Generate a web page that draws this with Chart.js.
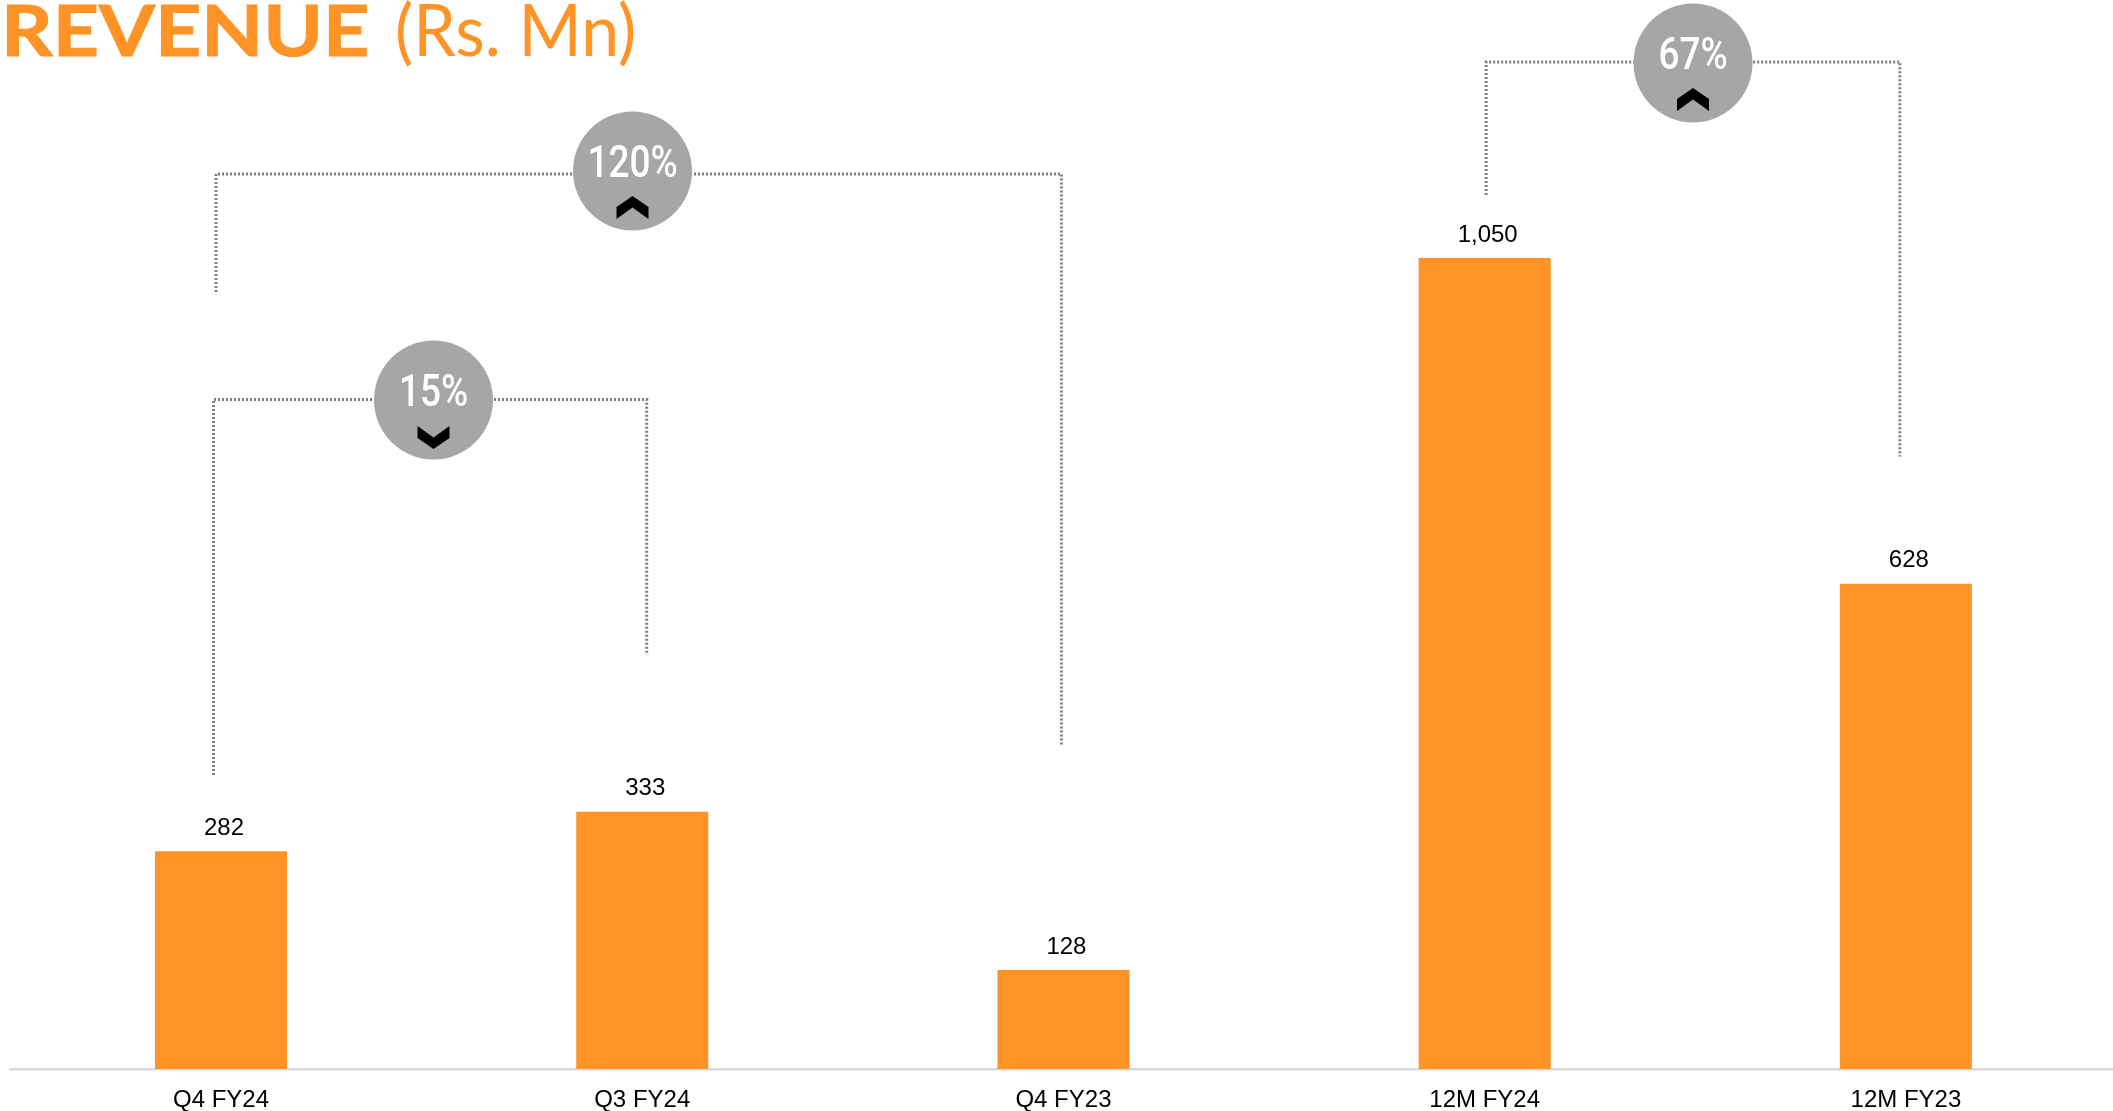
<!DOCTYPE html>
<html><head><meta charset="utf-8">
<style>
html,body{margin:0;padding:0;background:#fff;width:2113px;height:1111px;overflow:hidden}
#wrap{position:relative;width:2113px;height:1111px;overflow:hidden}
#c{position:absolute;left:0;top:0}
#t{position:absolute;left:1px;top:-14px;margin:0;font:700 71px Lato,sans-serif;color:#FF9326;white-space:nowrap;line-height:86px}
#t b{display:inline-block;font-weight:700;-webkit-text-stroke:1px #FF9326;transform-origin:0 50%;transform:scaleX(1.134)}
#t span{position:absolute;left:394px;top:0;font-weight:400;transform-origin:0 50%;transform:scaleX(.96)}
</style>
<script src="https://cdn.jsdelivr.net/npm/chart.js@4"></script>
</head><body><div id="wrap">
<h1 id="t"><b>REVENUE</b> <span>(Rs. Mn)</span></h1>
<canvas id="c" width="2121" height="1111"></canvas>
</div>
<script>
const categories = ["Q4 FY24","Q3 FY24","Q4 FY23","12M FY24","12M FY23"];
const revenue = [282,333,128,1050,628];
const valueLabels = ["282","333","128","1,050","628"];
const changeLabels = ["15%","120%","67%"];
const changeDirections = ["down","up","up"];
// bracket layout (pixels), x anchored on category positions
const brackets = [
 {i:0,from:0,to:1,dxL:-7.5,dxR:4.5,y:399.5,yL:775,yR:655,cx:433.5,cy:400},
 {i:1,from:0,to:2,dxL:-5,dxR:-2,y:174,yL:292,yR:745,cx:632.5,cy:171},
 {i:2,from:3,to:4,dxL:1.5,dxR:-6,y:62,yL:195,yR:456.5,cx:1693,cy:63}
];
const annot = {
 id:'annot',
 afterDraw(ch){
  const g=ch.ctx, xs=ch.scales.x;
  g.save();
  const meta=ch.getDatasetMeta(0);
  g.font='24px "Liberation Sans",Arial,sans-serif';g.fillStyle='#000';g.textAlign='center';g.textBaseline='middle';
  meta.data.forEach((b,i)=>g.fillText(valueLabels[i],b.x+3,b.y-23));
  brackets.forEach(b=>{
   const xL=xs.getPixelForValue(b.from)+b.dxL, xR=xs.getPixelForValue(b.to)+b.dxR;
   g.beginPath();g.strokeStyle='#7F7F7F';g.lineWidth=3;g.setLineDash([2,2]);
   g.moveTo(xL,b.yL);g.lineTo(xL,b.y);g.lineTo(xR,b.y);g.lineTo(xR,b.yR);g.stroke();
   g.setLineDash([]);
   g.beginPath();g.arc(b.cx,b.cy,59.5,0,Math.PI*2);g.fillStyle='#A6A6A6';g.fill();
   g.save();g.translate(b.cx,b.cy-5.5);g.scale(.84,1);
   g.font='500 44px Roboto,sans-serif';g.fillStyle='#fff';g.textAlign='center';g.textBaseline='middle';
   g.fillText(changeLabels[b.i],0,0);g.restore();
   const up=changeDirections[b.i]==='up', s=up?1:-1, y0=up?b.cy+25:b.cy+49;
   g.beginPath();g.fillStyle='#000';
   [[0,0],[16,11],[16,23],[0,11.5],[-16,23],[-16,11]].forEach((p,k)=>{
     const x=b.cx+p[0], y=y0+s*p[1]; k?g.lineTo(x,y):g.moveTo(x,y);});
   g.closePath();g.fill();
  });
  g.restore();
 }
};
new Chart(document.getElementById('c'),{
 type:'bar',
 data:{labels:categories,datasets:[{data:revenue,backgroundColor:'#FF9326',borderWidth:0,barPercentage:1,categoryPercentage:.3134}]},
 plugins:[annot],
 options:{
  responsive:false,animation:false,
  layout:{padding:{left:10.4,right:4.5,top:142,bottom:0}},
  plugins:{legend:{display:false},tooltip:{enabled:false},title:{display:false}},
  scales:{
   x:{grid:{display:false},border:{color:'#D9D9D9',width:2.5},
      afterFit(s){s.height=42;},
      ticks:{color:'#000',font:{family:'"Liberation Sans",Arial,sans-serif',size:24},padding:9,maxRotation:0}},
   y:{display:false,min:0,max:1200}
  }
 }
});
</script></body></html>
